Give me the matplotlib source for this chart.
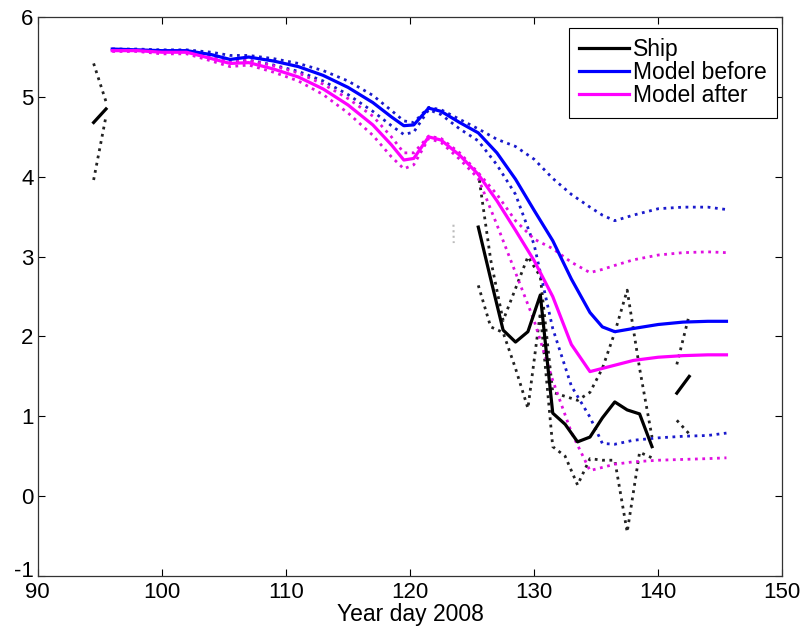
import numpy as np
import matplotlib
matplotlib.use("Agg")
import matplotlib.pyplot as plt
import matplotlib.transforms as mtransforms

plt.rcParams['font.family'] = ['Liberation Sans', 'DejaVu Sans']
plt.rcParams['axes.unicode_minus'] = False

# model output (year day / value)
model_day = [96, 98, 100, 102, 104, 105.5, 107, 109, 111, 113, 115, 117, 118.5, 119.5,
             120.3, 121.5, 122.5, 124, 125.5, 127, 128.5, 130, 131.5, 133, 134.5, 135.5,
             136.5, 138, 140, 142, 144, 145.5]

before = [5.60, 5.59, 5.58, 5.58, 5.53, 5.47, 5.50, 5.45, 5.38, 5.27, 5.12, 4.93, 4.75, 4.64,
          4.65, 4.86, 4.82, 4.68, 4.55, 4.30, 3.97, 3.58, 3.20, 2.72, 2.30, 2.12,
          2.06, 2.10, 2.15, 2.18, 2.19, 2.19]
before_hi = [5.60, 5.60, 5.59, 5.59, 5.56, 5.52, 5.52, 5.48, 5.42, 5.33, 5.20, 5.02, 4.83, 4.70,
             4.68, 4.87, 4.84, 4.72, 4.60, 4.47, 4.38, 4.22, 3.98, 3.78, 3.62, 3.52,
             3.45, 3.52, 3.60, 3.62, 3.62, 3.59]
before_lo = [5.59, 5.58, 5.57, 5.56, 5.50, 5.43, 5.46, 5.40, 5.32, 5.20, 5.03, 4.82, 4.64, 4.53,
             4.56, 4.84, 4.78, 4.60, 4.45, 4.15, 3.78, 3.15, 2.10, 1.38, 0.99, 0.66,
             0.65, 0.70, 0.73, 0.75, 0.76, 0.79]

after = [5.58, 5.58, 5.56, 5.56, 5.48, 5.42, 5.43, 5.35, 5.25, 5.10, 4.90, 4.65, 4.40, 4.21,
         4.23, 4.50, 4.46, 4.27, 4.03, 3.70, 3.33, 2.95, 2.50, 1.90, 1.56, 1.60,
         1.64, 1.70, 1.74, 1.76, 1.77, 1.77]
after_hi = [5.60, 5.59, 5.58, 5.57, 5.50, 5.45, 5.46, 5.39, 5.30, 5.16, 4.98, 4.76, 4.50, 4.30,
            4.30, 4.51, 4.48, 4.30, 4.05, 3.78, 3.45, 3.22, 3.10, 2.93, 2.80, 2.84,
            2.89, 2.96, 3.02, 3.05, 3.06, 3.05]
after_lo = [5.57, 5.57, 5.54, 5.54, 5.45, 5.38, 5.40, 5.31, 5.20, 5.03, 4.80, 4.52, 4.25, 4.10,
            4.15, 4.48, 4.43, 4.22, 3.98, 3.40, 2.80, 2.20, 1.45, 0.80, 0.32, 0.36,
            0.40, 0.43, 0.45, 0.46, 0.47, 0.48]

# ship observations (nan = no data)
nan = np.nan
ship_day = [94.5, 95.5, 96.5, 125.5, 126.5, 127.5, 128.5, 129.5, 130.5, 131.5, 132.5,
            133.5, 134.5, 135.5, 136.5, 137.5, 138.5, 139.5, 140.5, 141.5, 142.5]
ship = [4.68, 4.85, nan, 3.37, 2.72, 2.08, 1.93, 2.06, 2.52, 1.04, 0.90,
        0.68, 0.74, 0.98, 1.18, 1.08, 1.03, 0.62, nan, 1.29, 1.50]
ship_hi = [5.42, 4.94, nan, 4.05, 2.96, 2.20, 2.60, 3.00, 2.75, 1.30, 1.25,
           1.20, 1.30, 1.60, 2.05, 2.58, 1.60, 0.74, nan, 1.65, 2.27]
ship_lo = [3.96, 4.76, nan, 2.64, 2.12, 2.05, 1.60, 1.10, 2.30, 0.62, 0.50,
           0.14, 0.47, 0.45, 0.45, -0.45, 0.55, 0.48, nan, 0.95, 0.78]

# stray fragment near day 123
frag_day = [123.5, 123.52]
frag = [3.40, 3.17]

fig = plt.figure(figsize=(8.04, 6.34), dpi=100)
ax = fig.add_axes([0.047, 0.0915, 0.926, 0.8815])

dot = dict(linestyle=':', linewidth=2.0)
ax.plot(ship_day, ship_hi, color='#222222', **dot)
ax.plot(ship_day, ship_lo, color='#222222', **dot)
ax.plot(frag_day, frag, color='#bbbbbb', linestyle=':', linewidth=1.5)
ax.plot(model_day, before_hi, color='#1a1acc', **dot)
ax.plot(model_day, before_lo, color='#1a1acc', **dot)
ax.plot(model_day, after_hi, color='#e010e0', **dot)
ax.plot(model_day, after_lo, color='#e010e0', **dot)

l1, = ax.plot(ship_day, ship, color='black', linewidth=2.3, label='Ship')
l2, = ax.plot(model_day, before, color='#0000ff', linewidth=2.3, label='Model before')
l3, = ax.plot(model_day, after, color='#ff00ff', linewidth=2.3, label='Model after')

ax.set_xlim(90, 150)
ax.set_ylim(-1, 6)
ax.set_xticks([90, 100, 110, 120, 130, 140, 150])
ax.set_yticks([-1, 0, 1, 2, 3, 4, 5, 6])
ax.tick_params(direction='in', top=True, right=True, length=5, width=0.8,
               labelsize=16)
ax.tick_params(axis='x', pad=4)
ax.tick_params(axis='y', pad=3)
for s in ax.spines.values():
    s.set_linewidth(0.9)
    s.set_color('#333333')
ax.set_xlabel('Year day 2008', fontsize=16.5, labelpad=0)

# lift the bottom y label a little so it clears the "90"
fig.canvas.draw()
ylab = ax.get_yticklabels()[0]
ylab.set_transform(ylab.get_transform() +
                   mtransforms.ScaledTranslation(0, 5 / 72, fig.dpi_scale_trans))

leg = ax.legend(handles=[l1, l2, l3], loc='upper right', fontsize=16.5,
                bbox_to_anchor=(777 / 804, 1 - 28 / 634),
                bbox_transform=fig.transFigure,
                handlelength=2.2, handletextpad=0.15, labelspacing=0.0,
                borderpad=0.45, borderaxespad=0, fancybox=False,
                framealpha=1, edgecolor='black')
leg.get_frame().set_linewidth(0.8)

fig.savefig('out.png', dpi=100)
